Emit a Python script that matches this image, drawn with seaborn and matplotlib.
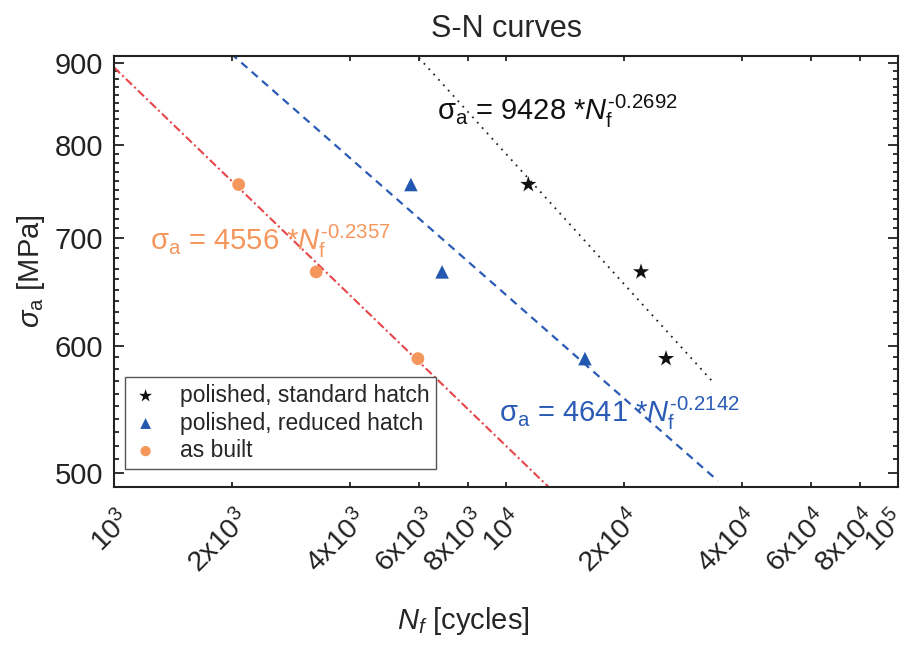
import matplotlib
matplotlib.use('Agg')
import numpy as np
import pandas as pd
import matplotlib.pyplot as plt
from matplotlib.ticker import FixedLocator, FixedFormatter, NullLocator, NullFormatter
from matplotlib.transforms import ScaledTranslation
import seaborn as sns

# DATA
# stress amplitude levels [MPa], same for every series
stress = [756, 667, 589]
# cycles to failure
n_standard = [11400, 22100, 25600]
n_reduced = [5720, 6870, 15900]
n_asbuilt = [2080, 3280, 5960]
series_names = ['polished, standard hatch', 'polished, reduced hatch', 'as built']
# Basquin fits: sigma_a = A * N_f^(-b)
fit_A = [9428, 4641, 4556]
fit_b = ['0.2692', '0.2142', '0.2357']
fit_n_start = [1.0e3, 1.0e3, 1.0e3]
fit_n_end = [3.41e4, 3.47e4, 1.3e4]

x_ticks = [1e3, 2e3, 4e3, 6e3, 8e3, 1e4, 2e4, 4e4, 6e4, 8e4, 1e5]
x_ticklabels = [r'$10^{3}$', r'$2\mathrm{x}10^{3}$', r'$4\mathrm{x}10^{3}$',
                r'$6\mathrm{x}10^{3}$', r'$8\mathrm{x}10^{3}$', r'$10^{4}$',
                r'$2\mathrm{x}10^{4}$', r'$4\mathrm{x}10^{4}$', r'$6\mathrm{x}10^{4}$',
                r'$8\mathrm{x}10^{4}$', r'$10^{5}$']
y_ticks = [500, 600, 700, 800, 900]
y_ticklabels = ['500', '600', '700', '800', '900']

# long-form table for seaborn
df = pd.DataFrame({
    'N': n_standard + n_reduced + n_asbuilt,
    'S': stress * 3,
    'series': [s for s in series_names for _ in stress],
})

# STYLE
sns.set_style('ticks')
plt.rcParams['font.family'] = ['Liberation Sans', 'DejaVu Sans']
plt.rcParams['mathtext.fontset'] = 'custom'
plt.rcParams['mathtext.rm'] = 'Liberation Sans'
plt.rcParams['mathtext.it'] = 'Liberation Sans:italic'
plt.rcParams['mathtext.bf'] = 'Liberation Sans:bold'

marker_colors = ['#111111', '#2358b0', '#f5965c']
line_colors = ['#222222', '#2a5bb5', '#e8464a']
text_colors = ['#111111', '#2a5bb5', '#f5965c']
markers = ['*', '^', 'o']
marker_sizes = [150, 95, 85]
line_styles = [(0, (1, 3)), (0, (3.6, 2.6)), (0, (4, 1.5, 1, 1.5))]
line_widths = [1.3, 1.6, 1.5]
text_pos = [(0.412, 0.851), (0.491, 0.151), (0.046, 0.550)]

fig = plt.figure(figsize=(9.17, 6.48), dpi=100)
ax = fig.add_subplot(111)
fig.subplots_adjust(left=0.1243, right=0.9793, top=0.9136, bottom=0.2485)
ax.set_xscale('log')
ax.set_yscale('log')

# fit lines
for i in range(3):
    n_line = np.array([fit_n_start[i], fit_n_end[i]])
    sns.lineplot(x=n_line, y=fit_A[i] * n_line ** -float(fit_b[i]), ax=ax,
                 color=line_colors[i], linestyle=line_styles[i],
                 linewidth=line_widths[i], legend=False)

# data points
for i, name in enumerate(series_names):
    sns.scatterplot(data=df[df['series'] == name], x='N', y='S', ax=ax,
                    marker=markers[i], color=marker_colors[i], s=marker_sizes[i],
                    edgecolor='none', label=name, zorder=5)

# fit equations (hyphen in exponent like the original, not a minus sign)
for i in range(3):
    eq = (r'$\mathrm{\sigma}_\mathrm{a}$ = %d *$N_\mathrm{f}^{' % fit_A[i]
          + '\u2010' + fit_b[i] + '}$')
    ax.text(text_pos[i][0], text_pos[i][1], eq,
            transform=ax.transAxes, fontsize=21, color=text_colors[i],
            ha='left', va='baseline')

# AXES
ax.set_xlim(1e3, 1e5)
ax.set_ylim(490, 909)
ax.xaxis.set_major_locator(FixedLocator(x_ticks))
ax.xaxis.set_major_formatter(FixedFormatter(x_ticklabels))
ax.xaxis.set_minor_locator(NullLocator())
ax.yaxis.set_major_locator(FixedLocator(y_ticks))
ax.yaxis.set_major_formatter(FixedFormatter(y_ticklabels))
ax.yaxis.set_minor_locator(FixedLocator([v for v in range(490, 910, 10) if v % 100]))
ax.yaxis.set_minor_formatter(NullFormatter())

ax.tick_params(axis='both', which='both', direction='in', top=True, right=True,
               width=1.3, colors='#222222')
ax.tick_params(axis='y', which='major', length=7, labelsize=21, pad=8)
ax.tick_params(axis='y', which='minor', length=3.6)
ax.tick_params(axis='x', which='major', length=3.6, labelsize=20.5, pad=13)
# rotated x tick labels, anchored at their upper right corner
xlabels = ax.get_xticklabels()
for k, lab in enumerate(xlabels):
    # last label pulled in a little so it stays inside the figure
    dx = 2 if k < len(xlabels) - 1 else -5
    lab.set_rotation(45)
    lab.set_ha('right')
    lab.set_va('top')
    lab.set_rotation_mode('anchor')
    lab.set_transform(lab.get_transform() + ScaledTranslation(dx / 72, 0, fig.dpi_scale_trans))
for sp in ax.spines.values():
    sp.set_linewidth(1.5)
    sp.set_color('#222222')

ax.set_title('S-N curves', fontsize=22, pad=14)
ax.set_xlabel(r'$N_f$ [cycles]', fontsize=21)
ax.xaxis.set_label_coords(0.445, -0.275)
ax.set_ylabel(r'$\sigma_\mathrm{a}$ [MPa]', fontsize=21)
ax.yaxis.set_label_coords(-0.085, 0.5)

ax.legend(loc='upper left', bbox_to_anchor=(0.014, 0.255), borderaxespad=0,
          fontsize=16.5, frameon=True, fancybox=False, edgecolor='#555555',
          framealpha=1, handletextpad=0.9, labelspacing=0.2, borderpad=0.3,
          handlelength=1.2, markerscale=0.8)

plt.savefig('out.png', dpi=100)
